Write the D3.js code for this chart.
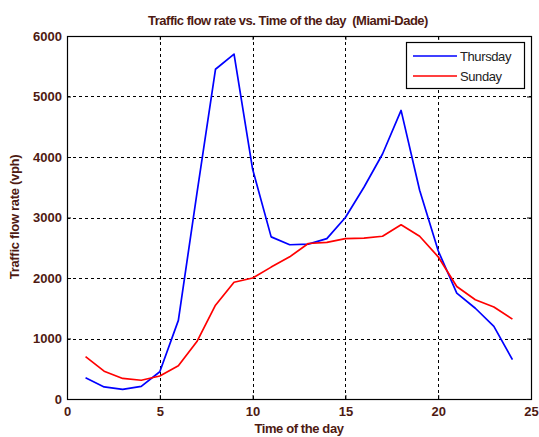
<!DOCTYPE html>
<html>
<head>
<meta charset="utf-8">
<script src="https://cdn.jsdelivr.net/npm/d3@7"></script>
<style>
  html, body { margin: 0; padding: 0; background: #fff; }
  svg { display: block; font-family: "Liberation Sans", Arial, sans-serif; }
</style>
</head>
<body>
<svg id="chart" width="539" height="437"></svg>
<script>
// Hourly traffic flow rate (vph), Miami-Dade
const hours = d3.range(1, 25);
const thursday = [350, 200, 160, 210, 450, 1300, 3400, 5450, 5700, 3800, 2680, 2550,
                  2560, 2650, 3000, 3500, 4050, 4770, 3450, 2450, 1750, 1500, 1200, 650];
const sunday   = [700, 460, 340, 310, 380, 550, 950, 1550, 1930, 2000, 2180, 2350,
                  2570, 2590, 2650, 2660, 2690, 2880, 2690, 2350, 1860, 1640, 1520, 1320];
const xTicks = [0, 5, 10, 15, 20, 25];
const yTicks = [0, 1000, 2000, 3000, 4000, 5000, 6000];
const seriesNames = ["Thursday", "Sunday"];
const seriesColors = ["#0000ff", "#ff0000"];

const textColor = "#4e1a12";
const svg = d3.select("#chart");
const m = { left: 67, right: 531, top: 36, bottom: 399 };

const x = d3.scaleLinear().domain([0, 25]).range([m.left, m.right]);
const y = d3.scaleLinear().domain([0, 6000]).range([m.bottom, m.top]);

// grid lines
const grid = svg.append("g").attr("stroke", "#000").attr("stroke-width", 1)
  .attr("stroke-dasharray", "3,3").attr("shape-rendering", "crispEdges");
grid.selectAll(".gx").data(xTicks.slice(1, -1)).join("line")
  .attr("x1", d => Math.round(x(d)) + 0.5).attr("x2", d => Math.round(x(d)) + 0.5)
  .attr("y1", m.top).attr("y2", m.bottom);
grid.selectAll(".gy").data(yTicks.slice(1, -1)).join("line")
  .attr("y1", d => Math.round(y(d)) + 0.5).attr("y2", d => Math.round(y(d)) + 0.5)
  .attr("x1", m.left).attr("x2", m.right);

// axes (ticks pointing inward, box style)
function styleAxis(g) {
  g.select(".domain").remove();
  g.selectAll(".tick line").attr("stroke", "#000");
  g.selectAll(".tick text").attr("fill", textColor)
    .attr("font-size", 13).attr("font-weight", "bold");
}
svg.append("g").attr("transform", `translate(0,${m.bottom})`)
  .call(d3.axisBottom(x).tickValues(xTicks).tickSize(-4).tickPadding(8).tickFormat(d3.format("d")))
  .call(styleAxis);
svg.append("g").attr("transform", `translate(${m.left},0)`)
  .call(d3.axisLeft(y).tickValues(yTicks).tickSize(-4).tickPadding(5).tickFormat(d3.format("d")))
  .call(styleAxis);
svg.append("g").attr("transform", `translate(0,${m.top})`)
  .call(d3.axisTop(x).tickValues(xTicks).tickSize(-4).tickFormat(""))
  .call(styleAxis);
svg.append("g").attr("transform", `translate(${m.right},0)`)
  .call(d3.axisRight(y).tickValues(yTicks).tickSize(-4).tickFormat(""))
  .call(styleAxis);

svg.append("rect").attr("x", m.left + 0.5).attr("y", m.top + 0.5)
  .attr("width", m.right - m.left).attr("height", m.bottom - m.top)
  .attr("fill", "none").attr("stroke", "#000").attr("stroke-width", 1.2);

// series lines
const line = d3.line().x((d, i) => x(hours[i])).y(d => y(d));
[thursday, sunday].forEach((vals, i) => {
  svg.append("path").datum(vals)
    .attr("fill", "none").attr("stroke", seriesColors[i])
    .attr("stroke-width", 1.7).attr("stroke-linejoin", "round")
    .attr("d", line);
});

// legend
const lg = svg.append("g");
lg.append("rect").attr("x", 406.5).attr("y", 42.5).attr("width", 118).attr("height", 46)
  .attr("fill", "#fff").attr("stroke", "#000").attr("stroke-width", 1.2);
seriesNames.forEach((name, i) => {
  const ly = 56 + i * 20;
  lg.append("line").attr("x1", 413).attr("x2", 457).attr("y1", ly).attr("y2", ly)
    .attr("stroke", seriesColors[i]).attr("stroke-width", 1.7);
  lg.append("text").attr("x", 460).attr("y", ly + 4.5).text(name)
    .attr("font-size", 13).attr("fill", "#222").attr("letter-spacing", -0.4);
});

// titles
svg.append("text").attr("x", 288).attr("y", 25).attr("text-anchor", "middle")
  .attr("font-size", 13).attr("font-weight", "bold").attr("fill", textColor)
  .attr("letter-spacing", -0.5).style("white-space", "pre")
  .text("Traffic flow rate vs. Time of the day  (Miami-Dade)");
svg.append("text").attr("x", 299).attr("y", 433).attr("text-anchor", "middle")
  .attr("font-size", 13).attr("font-weight", "bold").attr("fill", textColor)
  .attr("letter-spacing", -0.4).text("Time of the day");
svg.append("text").attr("transform", "translate(19,217) rotate(-90)")
  .attr("text-anchor", "middle").attr("font-size", 13).attr("font-weight", "bold")
  .attr("fill", textColor).attr("letter-spacing", -0.3).text("Traffic flow rate (vph)");
</script>
</body>
</html>
